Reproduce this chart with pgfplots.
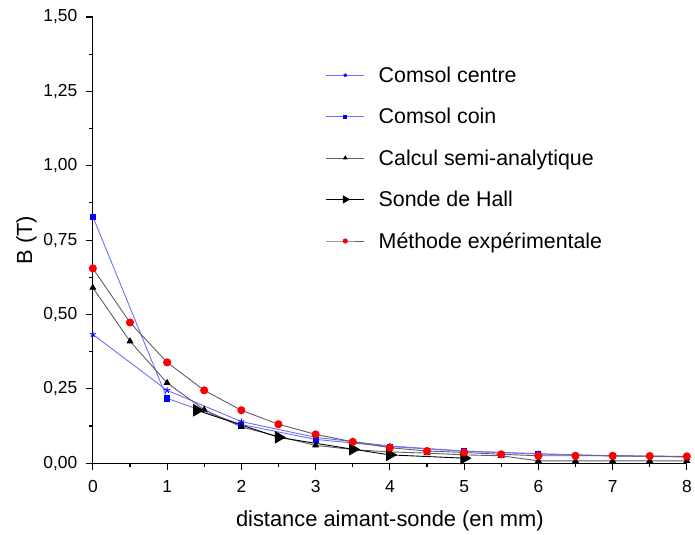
\documentclass[border=0pt]{standalone}
\usepackage{pgfplots}
\pgfplotsset{compat=1.18}
\usepackage{fontspec}
\setmainfont{Liberation Sans}

\definecolor{comsolline}{RGB}{110,110,255}
\definecolor{grayline}{RGB}{95,95,95}

\begin{document}
\begin{tikzpicture}
\begin{axis}[
  scale only axis,
  width=595bp, height=447bp,
  xmin=0, xmax=8, ymin=0, ymax=1.5,
  axis lines=left,
  axis line style={-, line width=1.1pt},
  xtick={0,1,...,8},
  ytick={0,0.25,...,1.5},
  minor x tick num=1,
  minor y tick num=1,
  tick align=outside,
  major tick length=7bp,
  minor tick length=4bp,
  tick style={line width=1.1pt, black},
  /pgf/number format/assume math mode=true,
  yticklabel style={/pgf/number format/.cd, use comma, fixed, fixed zerofill, precision=2, /tikz/.cd, xshift=-5bp},
  xticklabel style={yshift=-7bp},
  ticklabel style={font=\fontsize{17.5}{21}\selectfont},
  xlabel={distance aimant-sonde (en mm)},
  ylabel={B (T)},
  label style={font=\fontsize{22}{26}\selectfont},
  xlabel style={yshift=-11bp},
  ylabel style={yshift=0bp},
  legend style={draw=none, fill=none, at={(0.387,0.898)}, anchor=north west,
    row sep=20.5bp, font=\fontsize{21.5}{26}\selectfont},
  legend cell align=left,
  legend image code/.code={\draw[mark repeat=2,mark phase=2,#1,every mark/.append style={scale=0.6}] plot coordinates {(0bp,0bp) (19bp,0bp) (38bp,0bp)}; \path (50bp,0bp);},
]
% Comsol centre
\addplot[color=comsolline, line width=0.9pt, mark=star, mark size=3pt, mark options={blue, solid, line width=1pt}]
  coordinates {(0,0.433) (1,0.245) (2,0.140) (3,0.087) (4,0.058) (5,0.041) (6,0.032) (7,0.025) (8,0.022)};
\addlegendentry{Comsol centre}
% Comsol coin
\addplot[color=comsolline, line width=0.9pt, mark=square*, mark size=2.6pt, mark options={blue, solid}]
  coordinates {(0,0.829) (1,0.218) (2,0.130) (3,0.080) (4,0.056) (5,0.040) (6,0.031) (7,0.024) (8,0.021)};
\addlegendentry{Comsol coin}
% Calcul semi-analytique
\addplot[color=grayline, line width=0.9pt, mark=triangle*, mark size=3.2pt, mark options={black, solid}]
  coordinates {(0,0.590) (0.5,0.410) (1,0.270) (1.5,0.180) (2,0.122) (2.5,0.090) (3,0.060)
   (3.5,0.046) (4,0.038) (4.5,0.034) (5,0.028) (5.5,0.025) (6,0.008) (6.5,0.008) (7,0.008) (7.5,0.008) (8,0.008)};
\addlegendentry{Calcul semi-analytique}
% Sonde de Hall
\addplot[color=black, line width=0.9pt, mark=triangle*, mark size=6.5pt, mark options={black, solid, rotate=-90}]
  coordinates {(1.4,0.178) (2.5,0.087) (3.5,0.047) (4,0.028) (5,0.017)};
\addlegendentry{Sonde de Hall}
% Methode experimentale
\addplot[color=grayline, line width=0.9pt, mark=*, mark size=3.6pt, mark options={red, draw=red, solid}]
  coordinates {(0,0.655) (0.5,0.473) (1,0.339) (1.5,0.245) (2,0.178) (2.5,0.131) (3,0.097)
   (3.5,0.072) (4,0.052) (4.5,0.041) (5,0.036) (5.5,0.030) (6,0.025) (6.5,0.025) (7,0.025) (7.5,0.024) (8,0.023)};
\addlegendentry{Méthode expérimentale}
\end{axis}
% fix the page frame to the reference margins around the axis box
\path ([xshift=-93bp,yshift=17bp]current axis.north west) ([xshift=7bp,yshift=-71bp]current axis.south east);
\end{tikzpicture}
\end{document}
